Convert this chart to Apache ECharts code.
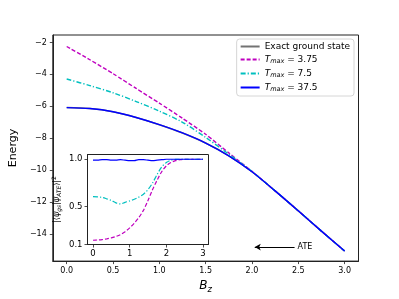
<!DOCTYPE html>
<html><head><meta charset="utf-8">
<script src="https://cdn.jsdelivr.net/npm/echarts@6/dist/echarts.min.js"></script>
<style>html,body{margin:0;padding:0;background:#fff}#c{width:399px;height:299px}</style>
</head><body><div id="c"></div>
<script>
// ---- main panel data (Energy vs B_z) ----
const xMain = [0, 0.25, 0.5, 0.75, 1.0, 1.25, 1.5, 1.75, 2.0, 2.25, 2.5, 2.75, 3.0];
const energyExact = [-6.08, -6.14, -6.34, -6.70, -7.15, -7.67, -8.30, -9.10, -10.10, -11.30, -12.55, -13.82, -15.07];
const energyT375  = [-2.25, -3.08, -3.95, -4.88, -5.80, -6.75, -7.75, -8.92, -10.07, -11.30, -12.55, -13.82, -15.07];
const energyT75   = [-4.29, -4.70, -5.15, -5.70, -6.30, -7.00, -7.95, -9.00, -10.08, -11.30, -12.55, -13.82, -15.07];
const energyT375b = [-6.08, -6.14, -6.34, -6.70, -7.15, -7.67, -8.30, -9.10, -10.10, -11.30, -12.55, -13.82, -15.07];
const mainXTicks = [0, 0.5, 1.0, 1.5, 2.0, 2.5, 3.0];
const mainYTicks = [-14, -12, -10, -8, -6, -4, -2];

// ---- inset data (fidelity vs B_z) ----
const xInset = [0, 0.125, 0.25, 0.375, 0.5, 0.625, 0.75, 0.875, 1.0, 1.125, 1.25, 1.375, 1.5,
                1.625, 1.75, 1.875, 2.0, 2.125, 2.25, 2.375, 2.5, 2.625, 2.75, 2.875, 3.0];
const fidT375  = [0.145, 0.148, 0.152, 0.160, 0.170, 0.185, 0.205, 0.235, 0.275, 0.325, 0.385, 0.460, 0.565,
                  0.680, 0.780, 0.870, 0.930, 0.965, 0.985, 0.995, 1.0, 1.0, 1.0, 1.0, 1.0];
const fidT75   = [0.605, 0.603, 0.597, 0.582, 0.565, 0.540, 0.528, 0.545, 0.560, 0.578, 0.600, 0.630, 0.680,
                  0.750, 0.840, 0.920, 0.965, 0.990, 0.998, 1.0, 1.0, 1.0, 1.0, 1.0, 1.0];
const fidT375b = [0.990, 0.990, 0.995, 0.995, 0.990, 0.990, 0.995, 0.990, 0.985, 0.985, 0.995, 0.995, 0.990,
                  0.985, 0.990, 0.995, 1.0, 1.0, 1.0, 1.0, 1.0, 1.0, 1.0, 1.0, 1.0];
const insetXTicks = [0, 1, 2, 3];
const insetYTicks = [0.1, 0.5, 1.0];

// ---- annotation (data coords) ----
const ateFrom = [2.46, -14.82];
const ateTo = [2.03, -14.82];

const FONT = 'DejaVu Sans';
const zip = (xs, ys) => xs.map((x, i) => [x, ys[i]]);
const minus = v => String(v).replace('-', '\u2212');
const MAG = '#bf00bf', CYN = '#00bfbf', BLU = '#0000ff';

const legendNames = {
  exact: 'Exact ground state',
  t1: '{i|T}{s|max}{n| = 3.75}',
  t2: '{i|T}{s|max}{n| = 7.5}',
  t3: '{i|T}{s|max}{n| = 37.5}'
};

function axisBase(ticks) {
  return {
    axisLine: {show: true, onZero: false, lineStyle: {color: '#222', width: 1}},
    axisTick: {show: true, inside: false, length: 3, customValues: ticks, lineStyle: {color: '#222', width: 0.8}},
    splitLine: {show: false}
  };
}

const chart = echarts.init(document.getElementById('c'), null, {renderer: 'canvas'});
chart.setOption({
  animation: false,
  backgroundColor: '#fff',
  textStyle: {fontFamily: FONT},
  grid: [
    {left: 50, top: 35, width: 308.5, height: 231, show: true, borderColor: '#222', borderWidth: 1, backgroundColor: 'transparent'},
    {left: 87.5, top: 154.5, width: 121, height: 90, show: true, borderColor: '#222', borderWidth: 1, backgroundColor: '#fff'}
  ],
  xAxis: [
    Object.assign(axisBase(mainXTicks), {
      type: 'value', gridIndex: 0, min: -0.15, max: 3.15,
      axisLabel: {customValues: mainXTicks, fontFamily: FONT, fontSize: 8, color: '#000', margin: 6,
                  formatter: v => v.toFixed(1)},
      name: '{b|B}{s|z}', nameLocation: 'middle', nameGap: 16,
      nameTextStyle: {rich: {
        b: {fontFamily: FONT, fontStyle: 'italic', fontSize: 12, color: '#000'},
        s: {fontFamily: FONT, fontStyle: 'italic', fontSize: 8.5, color: '#000', padding: [7, 0, 0, 0]}
      }}
    }),
    Object.assign(axisBase(insetXTicks), {
      type: 'value', gridIndex: 1, min: -0.15, max: 3.15,
      axisLabel: {customValues: insetXTicks, fontFamily: FONT, fontSize: 8.5, color: '#000', margin: 5,
                  formatter: v => String(v)}
    })
  ],
  yAxis: [
    Object.assign(axisBase(mainYTicks), {
      type: 'value', gridIndex: 0, min: -15.7, max: -1.53,
      axisLabel: {customValues: mainYTicks, fontFamily: FONT, fontSize: 8, color: '#000', margin: 6,
                  formatter: v => minus(v)},
      name: 'Energy', nameLocation: 'middle', nameGap: 24,
      nameTextStyle: {fontFamily: FONT, fontSize: 11, color: '#000'}
    }),
    Object.assign(axisBase(insetYTicks), {
      type: 'value', gridIndex: 1, min: 0.1, max: 1.05,
      axisLabel: {customValues: insetYTicks, fontFamily: FONT, fontSize: 8.5, color: '#000', margin: 5,
                  formatter: v => v.toFixed(1)},
      name: '|\u27E8{i|\u03C8}{s|gs}|{i|\u03C8}{s|ATE}\u27E9|{p|2}', nameLocation: 'middle', nameGap: 25,
      nameTextStyle: {fontFamily: FONT, fontSize: 8, color: '#000', rich: {
        i: {fontFamily: FONT, fontStyle: 'italic', fontSize: 8, color: '#000'},
        s: {fontFamily: FONT, fontStyle: 'italic', fontSize: 6, color: '#000', padding: [4, 0, 0, 0]},
        p: {fontFamily: FONT, fontSize: 6, color: '#000', padding: [0, 0, 5, 0]}
      }}
    })
  ],
  legend: {
    orient: 'vertical', right: 45, top: 39, align: 'left',
    backgroundColor: 'rgba(255,255,255,0.85)', borderColor: '#ccc', borderWidth: 0.8, borderRadius: 3,
    padding: [3, 4, 3, 3], itemGap: 4, itemWidth: 19, itemHeight: 9,
    itemStyle: {opacity: 0},
    data: ['exact', 't1', 't2', 't3'],
    formatter: n => legendNames[n],
    textStyle: {fontFamily: FONT, fontSize: 9, color: '#000', rich: {
      i: {fontFamily: FONT, fontStyle: 'italic', fontSize: 9, color: '#000'},
      s: {fontFamily: FONT, fontStyle: 'italic', fontSize: 6.5, color: '#000', padding: [4, 0, 0, 0]},
      n: {fontFamily: FONT, fontSize: 9, color: '#000'}
    }}
  },
  series: [
    {name: 'exact', type: 'line', xAxisIndex: 0, yAxisIndex: 0, data: zip(xMain, energyExact),
     symbol: 'none', smooth: 0.3, lineStyle: {color: 'rgba(0,0,0,0.55)', width: 1.5}, itemStyle: {color: 'rgba(0,0,0,0.55)'}},
    {name: 't1', type: 'line', xAxisIndex: 0, yAxisIndex: 0, data: zip(xMain, energyT375),
     symbol: 'none', smooth: 0.2, lineStyle: {color: MAG, width: 1.4, type: [4, 2]}, itemStyle: {color: MAG}},
    {name: 't2', type: 'line', xAxisIndex: 0, yAxisIndex: 0, data: zip(xMain, energyT75),
     symbol: 'none', smooth: 0.3, lineStyle: {color: CYN, width: 1.4, type: [5, 2, 1.2, 2]}, itemStyle: {color: CYN}},
    {name: 't3', type: 'line', xAxisIndex: 0, yAxisIndex: 0, data: zip(xMain, energyT375b),
     symbol: 'none', smooth: 0.3, lineStyle: {color: BLU, width: 1.4}, itemStyle: {color: BLU},
     markLine: {
       silent: true, symbol: ['none', 'arrow'], symbolSize: [5, 6], animation: false,
       lineStyle: {color: '#000', width: 1, type: 'solid'},
       label: {show: true, position: 'start', formatter: 'ATE', fontFamily: FONT, fontSize: 8, color: '#000', distance: 3},
       data: [[{coord: ateFrom}, {coord: ateTo}]]
     }},
    {name: 'i1', type: 'line', xAxisIndex: 1, yAxisIndex: 1, data: zip(xInset, fidT375),
     symbol: 'none', smooth: 0.3, lineStyle: {color: MAG, width: 1.2, type: [4, 2]}},
    {name: 'i2', type: 'line', xAxisIndex: 1, yAxisIndex: 1, data: zip(xInset, fidT75),
     symbol: 'none', smooth: 0.3, lineStyle: {color: CYN, width: 1.2, type: [5, 2, 1.2, 2]}},
    {name: 'i3', type: 'line', xAxisIndex: 1, yAxisIndex: 1, data: zip(xInset, fidT375b),
     symbol: 'none', smooth: 0.3, lineStyle: {color: BLU, width: 1.2}}
  ]
});
</script></body></html>
